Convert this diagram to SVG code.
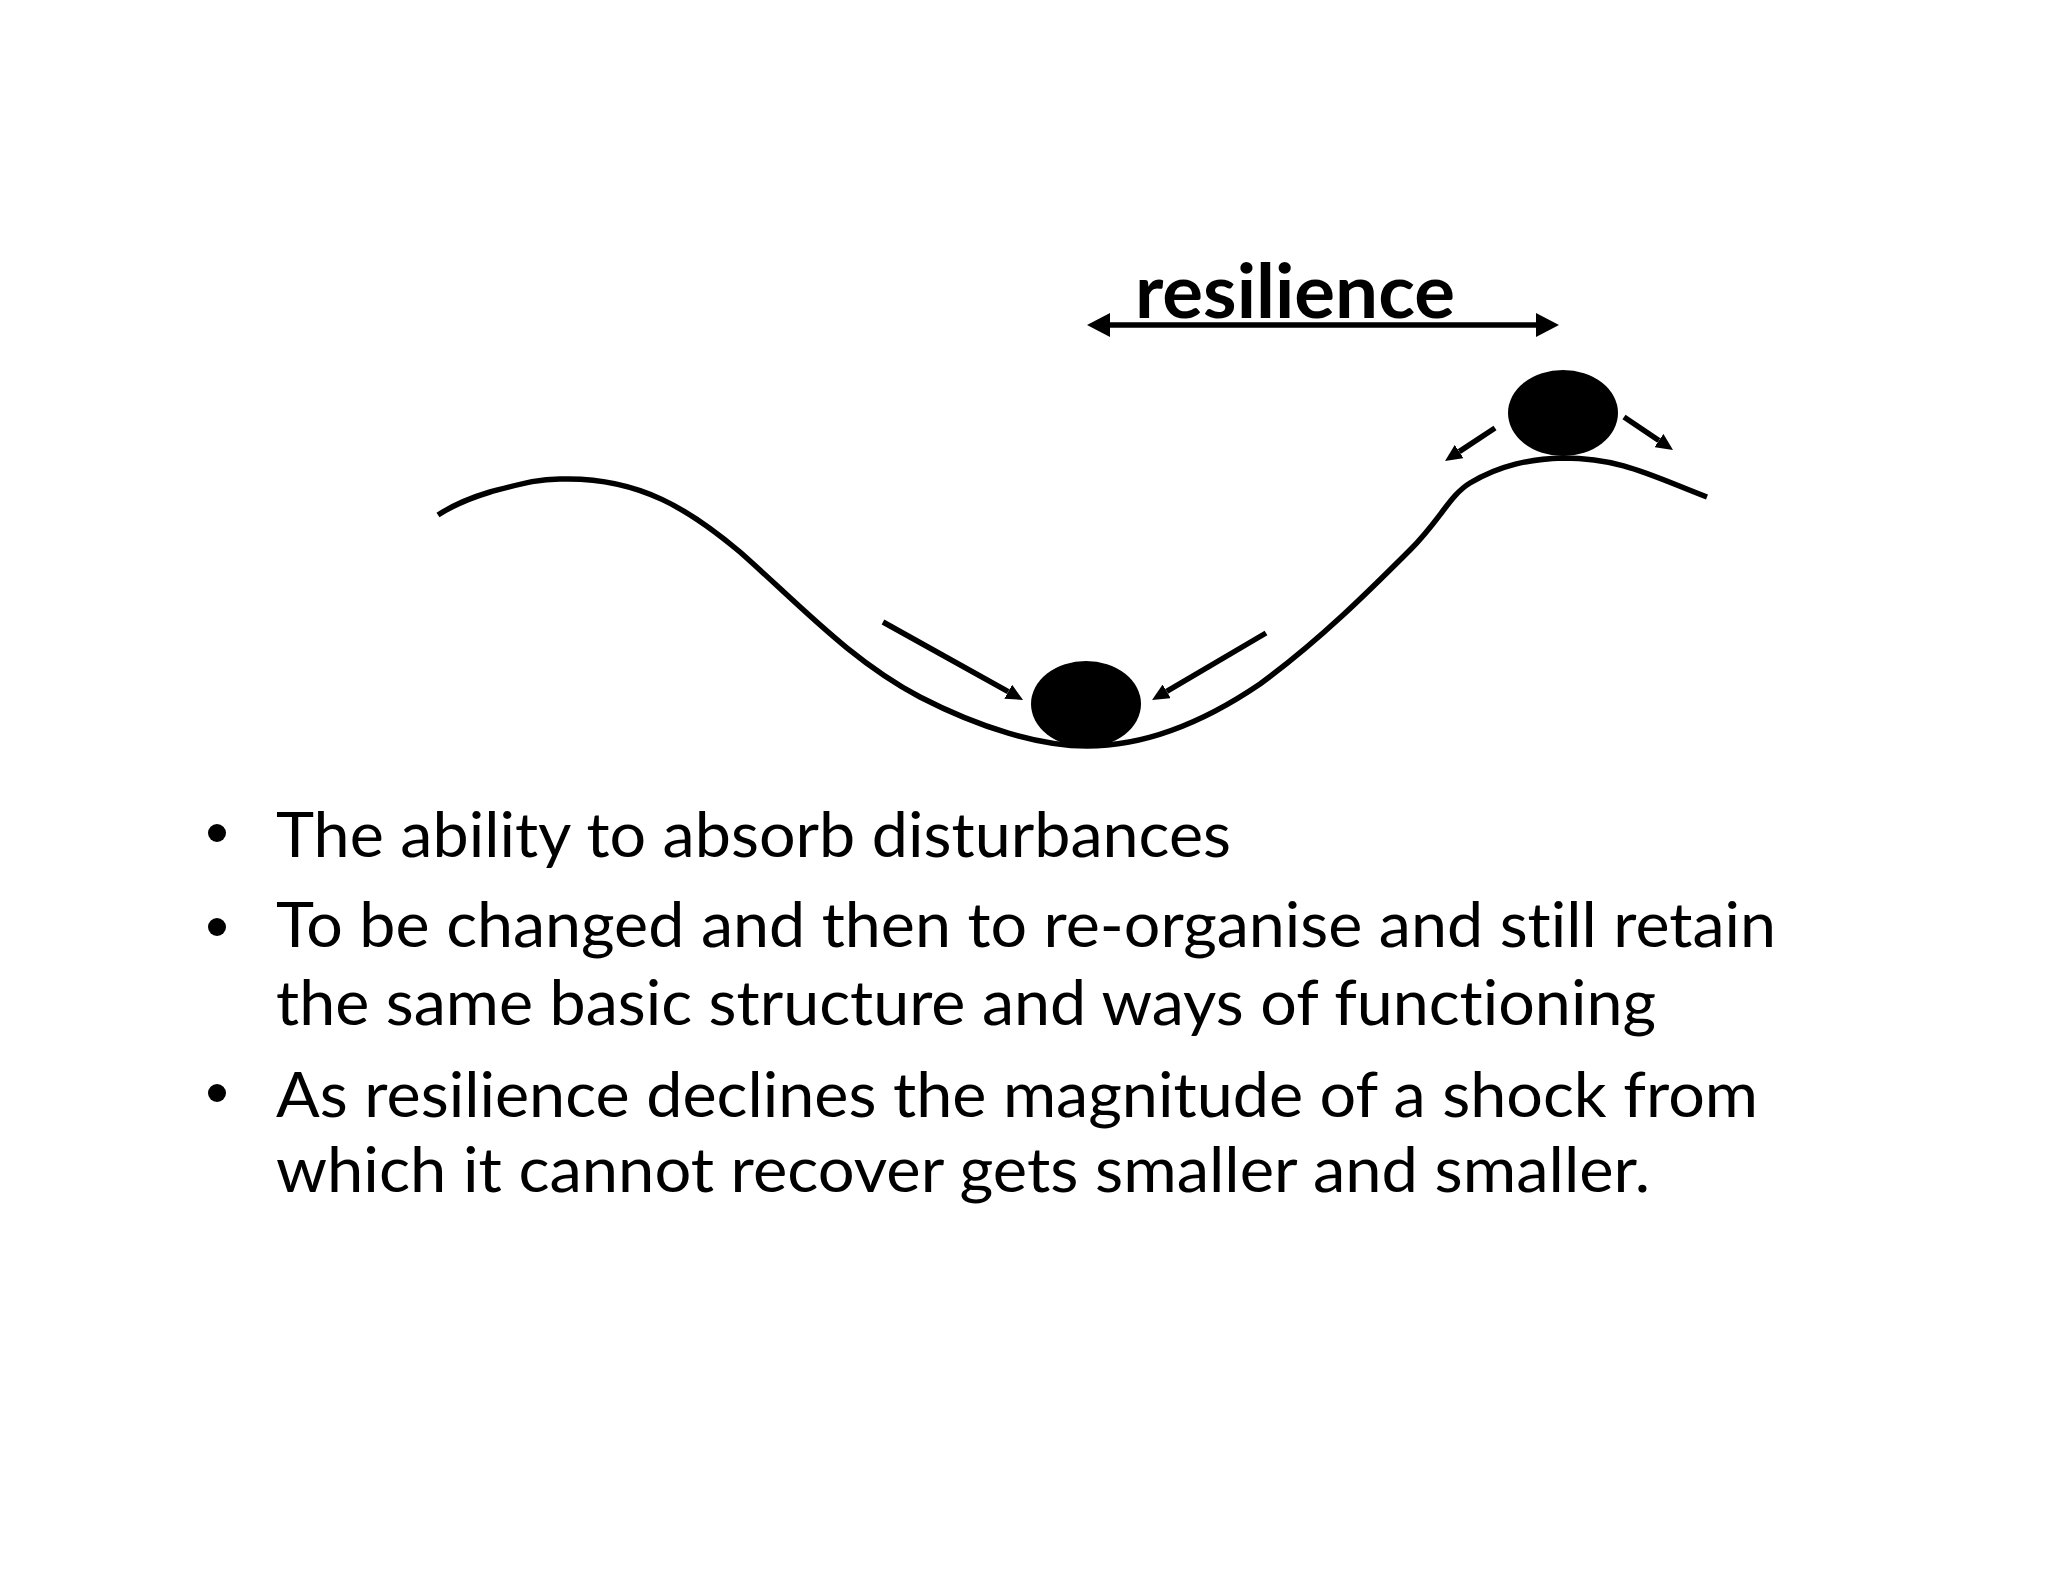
<svg xmlns="http://www.w3.org/2000/svg" width="2048" height="1582" viewBox="0 0 2048 1582">
  <style>
    .ink { stroke: #000; stroke-width: 5.5; fill: none; }
    .ball { fill: #000; }
    .body { font-family: Lato, "Open Sans", "Liberation Sans", sans-serif; font-size: 62px; fill: #000; font-variant-ligatures: none; font-feature-settings: "liga" 0; }
    .title { font-family: Lato, "Open Sans", "Liberation Sans", sans-serif; font-size: 74px; font-weight: bold; fill: #000; }
  </style>
  <defs>
    <marker id="ah" markerUnits="userSpaceOnUse" viewBox="0 0 17 16" refX="0" refY="8" markerWidth="17" markerHeight="16" orient="auto">
      <path d="M0,0 L17,8 L0,16 Z" fill="#000"/>
    </marker>
    <marker id="ahBig" markerUnits="userSpaceOnUse" viewBox="0 0 23 24" refX="0" refY="12" markerWidth="23" markerHeight="24" orient="auto-start-reverse">
      <path d="M0,0 L23,12 L0,24 Z" fill="#000"/>
    </marker>
  </defs>
  <rect width="2048" height="1582" fill="#fff"/>

  <g id="landscape">
    <path class="ink" d="M438,515 C455,504 470,498 490,492 C520,484 540,478 565,479 C640,478 690,510 740,552 C800,605 850,660 920,697 C980,728 1040,746 1087,746 C1150,746 1210,718 1260,684 C1320,640 1370,590 1410,550 C1440,520 1450,495 1470,483 C1500,465 1530,459 1563,458 C1620,458 1650,475 1707,497"/>
  </g>

  <g id="ball-bottom">
    <ellipse class="ball" cx="1086" cy="704" rx="55" ry="43"/>
  </g>
  <g id="ball-top">
    <ellipse class="ball" cx="1563" cy="413" rx="55" ry="43"/>
  </g>

  <g id="label-resilience">
    <text class="title" x="1135" y="318" textLength="320" lengthAdjust="spacingAndGlyphs">resilience</text>
  </g>

  <g id="connectors">
    <line class="ink" x1="1110" y1="325" x2="1536" y2="325" marker-start="url(#ahBig)" marker-end="url(#ahBig)"/>
    <line class="ink" x1="883" y1="622" x2="1008.2" y2="691.7" marker-end="url(#ah)"/>
    <line class="ink" x1="1266" y1="633" x2="1166.7" y2="691.4" marker-end="url(#ah)"/>
    <line class="ink" x1="1495" y1="428" x2="1459.2" y2="451.6" marker-end="url(#ah)"/>
    <line class="ink" x1="1624" y1="417" x2="1658.9" y2="440.5" marker-end="url(#ah)"/>
  </g>

  <g id="bullets">
    <circle cx="217" cy="833" r="9" fill="#000"/>
    <circle cx="217" cy="927" r="9" fill="#000"/>
    <circle cx="217" cy="1093" r="9" fill="#000"/>
    <text class="body" x="276" y="857" textLength="955" lengthAdjust="spacingAndGlyphs">The ability to absorb disturbances</text>
    <text class="body" x="276" y="947" textLength="1500" lengthAdjust="spacingAndGlyphs">To be changed and then to re-organise and still retain</text>
    <text class="body" x="276" y="1025" textLength="1380" lengthAdjust="spacingAndGlyphs">the same basic structure and ways of functioning</text>
    <text class="body" x="276" y="1117" textLength="1482" lengthAdjust="spacingAndGlyphs">As resilience declines the magnitude of a shock from</text>
    <text class="body" x="276" y="1192" textLength="1374" lengthAdjust="spacingAndGlyphs">which it cannot recover gets smaller and smaller.</text>
  </g>
</svg>
